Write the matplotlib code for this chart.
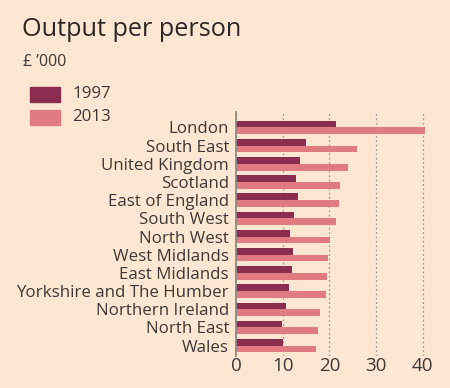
import matplotlib
matplotlib.use("Agg")
import matplotlib.pyplot as plt
import numpy as np

regions = ["London", "South East", "United Kingdom", "Scotland", "East of England",
           "South West", "North West", "West Midlands", "East Midlands",
           "Yorkshire and The Humber", "Northern Ireland", "North East", "Wales"]
v1997 = [21.4, 14.9, 13.7, 12.8, 13.3, 12.4, 11.6, 12.2, 12.1, 11.4, 10.7, 9.9, 10.1]
v2013 = [40.5, 26.0, 23.9, 22.3, 22.1, 21.4, 20.1, 19.7, 19.6, 19.3, 18.1, 17.6, 17.1]
xticks = [0, 10, 20, 30, 40]

BG = "#FDE7D3"
DARK = "#8A2D4F"
LIGHT = "#E17B82"
TXT = "#3d3935"
FONT = ["Open Sans", "DejaVu Sans"]

W, H = 450, 388
fig = plt.figure(figsize=(W/100, H/100), dpi=100, facecolor=BG)

left, right, top, bottom = 236, 432, 112, 356
ax = fig.add_axes([left/W, 1-bottom/H, (right-left)/W, (bottom-top)/H])
ax.set_facecolor(BG)

n = len(regions)
y = np.arange(n)
h = 0.37
ax.barh(y - h/2, v1997, height=h, color=DARK, zorder=3)
ax.barh(y + h/2, v2013, height=h, color=LIGHT, zorder=3)
ax.set_ylim(n - 1 + 0.57, -0.85)
ax.set_xlim(0, 42)

ax.set_yticks(y)
ax.set_yticklabels(regions, fontsize=12.2, color=TXT, family=FONT)
ax.set_xticks(xticks)
ax.set_xticklabels([str(t) for t in xticks], fontsize=13.5, color=TXT, family=FONT)
ax.tick_params(axis="y", length=0, pad=5)
ax.tick_params(axis="x", length=0, pad=1)
for s in ["top", "right", "bottom"]:
    ax.spines[s].set_visible(False)
ax.spines["left"].set_color("#8f8a85")
ax.spines["left"].set_linewidth(1.3)
ax.spines["left"].set_zorder(4)
ax.grid(axis="x", linestyle=(0, (1.5, 2)), color="#9e9891", linewidth=0.9, zorder=0)
ax.set_axisbelow(True)

fig.text(22/W, 1-29/H, "Output per person", fontsize=18.2, color="#2b2825",
         family=FONT, va="center", ha="left")
fig.text(23/W, 1-62/H, "£ ’000", fontsize=11.5, color=TXT, family=FONT,
         va="center", ha="left")

from matplotlib.patches import Rectangle
for (yc, col, lab) in [(94, DARK, "1997"), (117, LIGHT, "2013")]:
    fig.patches.append(Rectangle((30/W, 1-(yc+7.5)/H), 30/W, 15/H, color=col,
                                 transform=fig.transFigure, figure=fig))
    fig.text(72/W, 1-yc/H, lab, fontsize=12.2, color=TXT, family=FONT,
             va="center", ha="left")

fig.savefig("out.png", dpi=100, facecolor=BG)
